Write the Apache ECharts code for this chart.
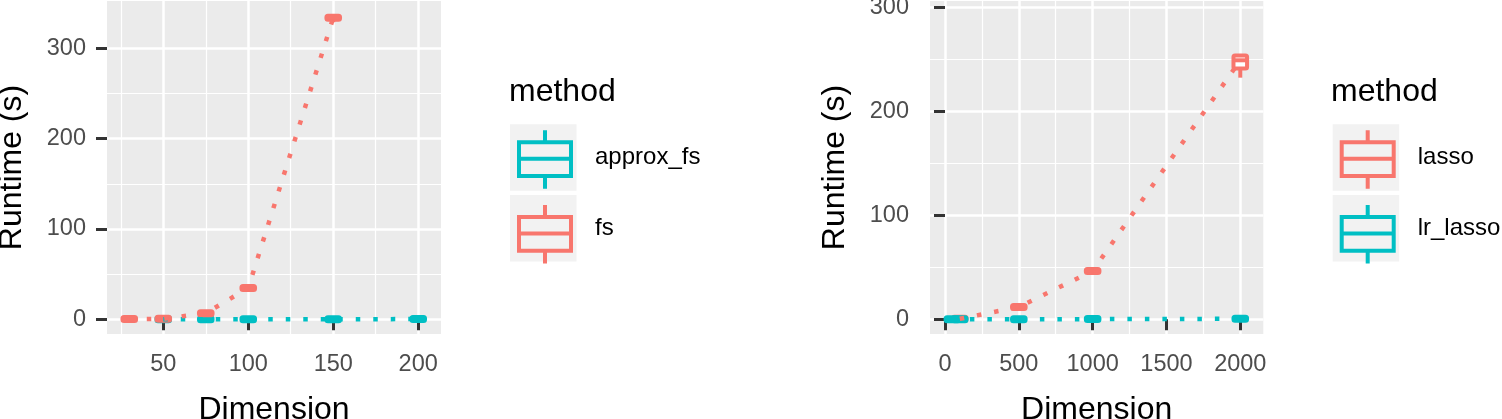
<!DOCTYPE html>
<html>
<head>
<meta charset="utf-8">
<title>Runtime vs Dimension</title>
<script src="https://cdn.jsdelivr.net/npm/echarts@6.0.0/dist/echarts.min.js"></script>
<style>
  html, body { margin: 0; padding: 0; background: #fff; }
  #main { width: 1502px; height: 419px; }
</style>
</head>
<body>
<div id="main"></div>
<script>
// 左图：fs / approx_fs，每行 [min, Q1, median, Q3, max]
var fsDims = [30, 50, 75, 100, 150];
var fsStats = [
  [0.1, 0.1, 0.2, 0.3, 0.4],
  [0.3, 0.4, 0.5, 0.6, 0.8],
  [5.5, 6.2, 6.8, 7.4, 8.2],
  [33, 34, 34.6, 35.2, 36],
  [329, 332.5, 334, 335, 336]
];
var approxDims = [50, 75, 100, 150, 200];
var approxStats = [
  [0.01, 0.02, 0.02, 0.03, 0.04],
  [0.02, 0.03, 0.04, 0.05, 0.06],
  [0.04, 0.05, 0.06, 0.07, 0.09],
  [0.08, 0.1, 0.12, 0.14, 0.17],
  [0.15, 0.18, 0.2, 0.23, 0.27]
];
// 右图：lasso / lr_lasso
var lassoDims = [100, 500, 1000, 2000];
var lassoStats = [
  [0.3, 0.4, 0.5, 0.6, 0.7],
  [10.5, 11.3, 11.9, 12.4, 13.2],
  [44.5, 45.8, 46.5, 47.2, 48.5],
  [232.3, 241, 249, 253.5, 253.5]
];
var lrDims = [50, 100, 500, 1000, 2000];
var lrStats = [
  [0.01, 0.01, 0.02, 0.02, 0.03],
  [0.02, 0.02, 0.03, 0.04, 0.05],
  [0.06, 0.08, 0.1, 0.12, 0.14],
  [0.15, 0.18, 0.2, 0.22, 0.26],
  [0.4, 0.45, 0.5, 0.55, 0.6]
];
// 刻度
var leftXTicks = [50, 100, 150, 200];
var leftXMinor = [25, 75, 125, 175];
var leftYTicks = [0, 100, 200, 300];
var rightXTicks = [0, 500, 1000, 1500, 2000];
var rightXMinor = [250, 750, 1250, 1750];
var rightYTicks = [0, 100, 200, 300];
var yMinor = [50, 150, 250];

var RED = '#F8766D';
var TEAL = '#00BFC4';
var FONT = "'Liberation Sans', Arial, sans-serif";

// 箱线图的图例图形
var glyph = 'path://M26,0L26,12M0,12L52,12L52,45.7L0,45.7ZM0,28.4L52,28.4M26,45.7L26,58.4';

function boxData(dims, stats) {
  var res = [];
  for (var i = 0; i < dims.length; i++) {
    res.push([dims[i]].concat(stats[i]));
  }
  return res;
}
function medianData(dims, stats) {
  var res = [];
  for (var i = 0; i < dims.length; i++) {
    res.push([dims[i], stats[i][2]]);
  }
  return res;
}

// 自定义箱线：ggplot 风格，无须端横线
function renderBox(params, api) {
  var x = api.value(0);
  var lo = api.coord([x, api.value(1)]);
  var q1 = api.coord([x, api.value(2)]);
  var md = api.coord([x, api.value(3)]);
  var q3 = api.coord([x, api.value(4)]);
  var hi = api.coord([x, api.value(5)]);
  var half = 6.8;
  var top = Math.min(q3[1], md[1] - 2);
  var bottom = Math.max(q1[1], md[1] + 2);
  var color = api.visual('color');
  var lineStyle = { stroke: color, lineWidth: 4, lineCap: 'butt' };
  return {
    type: 'group',
    children: [
      { type: 'line', shape: { x1: md[0], y1: hi[1], x2: md[0], y2: top }, style: lineStyle },
      { type: 'line', shape: { x1: md[0], y1: bottom, x2: md[0], y2: lo[1] }, style: lineStyle },
      {
        type: 'rect',
        shape: { x: md[0] - half, y: top, width: half * 2, height: bottom - top, r: 1.5 },
        style: { fill: '#fff', stroke: color, lineWidth: 4, lineJoin: 'round' }
      },
      { type: 'line', shape: { x1: md[0] - half, y1: md[1], x2: md[0] + half, y2: md[1] }, style: lineStyle }
    ]
  };
}

function boxSeries(name, color, idx, dims, stats) {
  return {
    name: name,
    type: 'custom',
    xAxisIndex: idx,
    yAxisIndex: idx,
    itemStyle: { color: color },
    renderItem: renderBox,
    encode: { x: 0, y: [1, 2, 3, 4, 5] },
    data: boxData(dims, stats)
  };
}
function lineSeries(name, color, idx, dims, stats) {
  return {
    name: name,
    type: 'line',
    xAxisIndex: idx,
    yAxisIndex: idx,
    showSymbol: false,
    z: 3,
    itemStyle: { color: color },
    lineStyle: { color: color, width: 4.5, type: [4.5, 13], cap: 'butt' },
    data: medianData(dims, stats)
  };
}

function mainX(grid, min, max, ticks, name) {
  return {
    type: 'value', gridIndex: grid, min: min, max: max, position: 'bottom',
    name: name, nameLocation: 'middle', nameGap: 60,
    nameTextStyle: { fontSize: 32, color: '#000', fontFamily: FONT },
    axisLine: { show: false },
    axisTick: { show: true, length: 11, customValues: ticks, lineStyle: { color: '#333', width: 3 } },
    axisLabel: {
      customValues: ticks, margin: 19, fontSize: 23.5, color: '#4D4D4D', fontFamily: FONT,
      formatter: function (v) { return String(v); }
    },
    splitLine: { show: true, lineStyle: { color: '#fff', width: 2.5 } }
  };
}
function mainY(grid, min, max, ticks) {
  return {
    type: 'value', gridIndex: grid, min: min, max: max, position: 'left',
    name: 'Runtime (s)', nameLocation: 'middle', nameGap: 79,
    nameTextStyle: { fontSize: 32, color: '#000', fontFamily: FONT },
    axisLine: { show: false },
    axisTick: { show: true, length: 11, customValues: ticks, lineStyle: { color: '#333', width: 3 } },
    axisLabel: {
      customValues: ticks, margin: 21, fontSize: 23.5, color: '#4D4D4D', fontFamily: FONT,
      formatter: function (v) { return String(v); }
    },
    splitLine: { show: true, lineStyle: { color: '#fff', width: 2.5 } }
  };
}
// 次网格线用一根隐藏的轴画
function minorAxis(grid, min, max, ticks) {
  return {
    type: 'value', gridIndex: grid, min: min, max: max,
    axisLine: { show: false },
    axisTick: { show: false, customValues: ticks },
    axisLabel: { show: false, customValues: ticks },
    splitLine: { show: true, lineStyle: { color: '#fff', width: 1.2 } }
  };
}

function legendKeys(left, names) {
  return {
    orient: 'vertical', left: left, top: 124.3, padding: 0,
    itemWidth: 66.5, itemHeight: 66.5, itemGap: 4.3,
    icon: 'rect', selectedMode: false, z: 3,
    itemStyle: { color: '#F2F2F2', borderWidth: 0 },
    textStyle: { fontSize: 24, color: '#000', fontFamily: FONT, padding: [0, 0, 0, 13.5] },
    data: names
  };
}
function legendGlyphs(left, names, colors) {
  var data = [];
  for (var i = 0; i < names.length; i++) {
    data.push({
      name: names[i], icon: glyph,
      itemStyle: { color: 'rgba(0,0,0,0)', borderColor: colors[i], borderWidth: 4 }
    });
  }
  return {
    orient: 'vertical', left: left, top: 128.3, padding: 0,
    itemWidth: 52, itemHeight: 58.4, itemGap: 12.3,
    selectedMode: false, z: 4,
    textStyle: { fontSize: 24, color: 'rgba(0,0,0,0)', fontFamily: FONT },
    data: data
  };
}

var chart = echarts.init(document.getElementById('main'));
var option = {
  animation: false,
  backgroundColor: '#fff',
  title: [
    { text: 'method', left: 509, top: 76, padding: 0, textStyle: { fontSize: 32, fontWeight: 'normal', color: '#000', fontFamily: FONT } },
    { text: 'method', left: 1331, top: 76, padding: 0, textStyle: { fontSize: 32, fontWeight: 'normal', color: '#000', fontFamily: FONT } }
  ],
  legend: [
    legendKeys(510, ['approx_fs', 'fs']),
    legendGlyphs(517, ['approx_fs', 'fs'], [TEAL, RED]),
    legendKeys(1332.7, ['lasso', 'lr_lasso']),
    legendGlyphs(1339.7, ['lasso', 'lr_lasso'], [RED, TEAL])
  ],
  grid: [
    { left: 107, top: 1, width: 334, height: 333, show: true, backgroundColor: '#EBEBEB', borderWidth: 0, outerBoundsMode: 'none' },
    { left: 930, top: 1, width: 333.3, height: 333, show: true, backgroundColor: '#EBEBEB', borderWidth: 0, outerBoundsMode: 'none' }
  ],
  xAxis: [
    mainX(0, 16.9, 213.4, leftXTicks, 'Dimension'),
    mainX(1, -101.6, 2156, rightXTicks, 'Dimension'),
    minorAxis(0, 16.9, 213.4, leftXMinor),
    minorAxis(1, -101.6, 2156, rightXMinor)
  ],
  yAxis: [
    mainY(0, -16.3, 352.5, leftYTicks),
    mainY(1, -14.1, 306, rightYTicks),
    minorAxis(0, -16.3, 352.5, yMinor),
    minorAxis(1, -14.1, 306, yMinor)
  ],
  series: [
    boxSeries('approx_fs', TEAL, 0, approxDims, approxStats),
    boxSeries('fs', RED, 0, fsDims, fsStats),
    lineSeries('approx_fs', TEAL, 0, approxDims, approxStats),
    lineSeries('fs', RED, 0, fsDims, fsStats),
    boxSeries('lasso', RED, 1, lassoDims, lassoStats),
    boxSeries('lr_lasso', TEAL, 1, lrDims, lrStats),
    lineSeries('lasso', RED, 1, lassoDims, lassoStats),
    lineSeries('lr_lasso', TEAL, 1, lrDims, lrStats)
  ]
};
chart.setOption(option);
</script>
</body>
</html>
